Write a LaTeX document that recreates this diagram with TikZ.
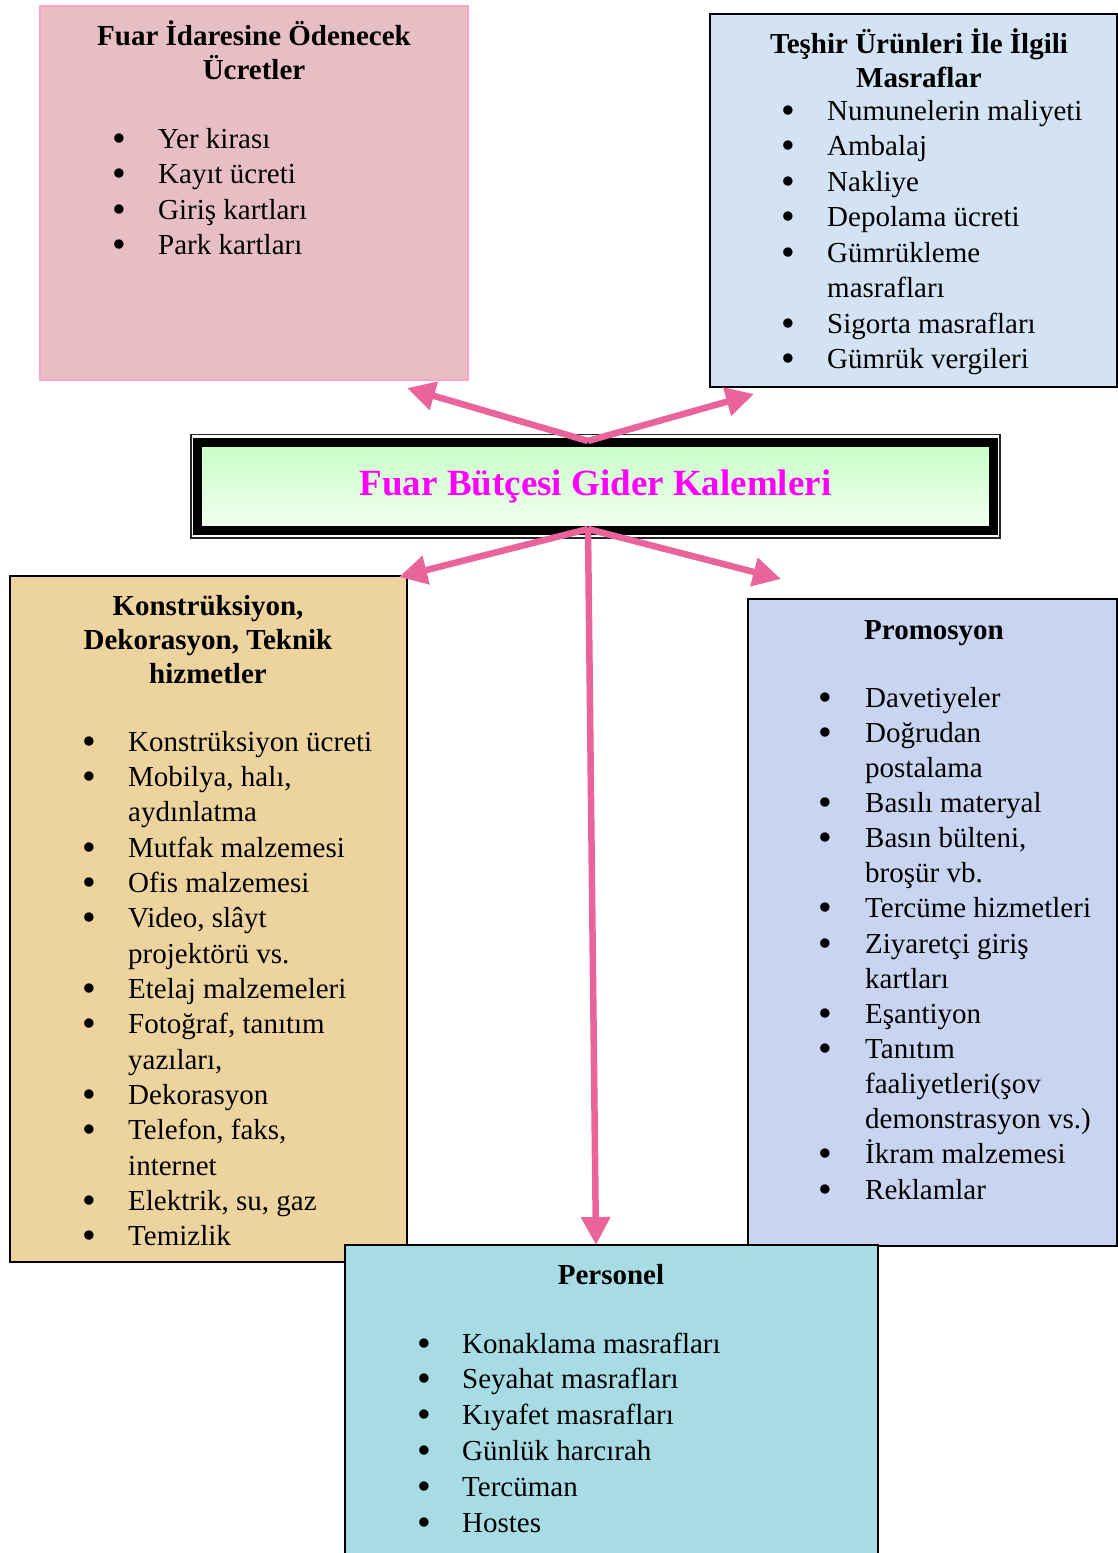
\documentclass[tikz,border=0pt]{standalone}
\usepackage{fontspec}
\setmainfont{Liberation Serif}
\usepackage{array}
\usetikzlibrary{arrows.meta,positioning,calc}

\definecolor{arrowpink}{HTML}{E8649A}
\definecolor{rosefill}{HTML}{E8BEC5}
\definecolor{roseline}{HTML}{F7A3CB}
\definecolor{skyfill}{HTML}{D4E3F4}
\definecolor{sandfill}{HTML}{EDD49E}
\definecolor{lilacfill}{HTML}{C9D4F1}
\definecolor{aquafill}{HTML}{A8DCE5}
\definecolor{mintfill}{HTML}{C6FFC6}
\definecolor{mintlow}{HTML}{F4FFF1}
\definecolor{titlemag}{HTML}{FF00FF}

% one bullet row, and a wrapped line of the same item
\newcommand{\bigdot}{\smash{\raisebox{-3pt}{\scalebox{1.35}{\textbullet}}}}
\newcommand{\bul}[1]{\bigdot & #1\\}
\newcommand{\cont}[1]{& #1\\}

\begin{document}
\begin{tikzpicture}[x=1pt, y=-1pt, >={Triangle[length=28pt,width=28pt]}]
		\tikzstyle{panel}=[draw=black, line width=2pt, outer sep=0pt, inner sep=0pt, anchor=north west]
		\tikzstyle{headtitle}=[align=center, anchor=base, inner sep=0pt, font=\bfseries\fontsize{29}{34}\selectfont]
		\tikzstyle{itemlist}=[anchor=base west, inner sep=0pt, font=\fontsize{29}{35.5}\selectfont]
		\tikzstyle{link}=[->, color=arrowpink, line width=6.5pt]
		\useasboundingbox (0,0) rectangle (1118,1553);

		% panels
		\node[panel, draw=roseline, fill=rosefill, minimum width=428pt, minimum height=374pt] (fees) at (40,6) {};
		\node[panel, fill=skyfill, minimum width=407pt, minimum height=373pt] (goods) at (710,14) {};
		\node[panel, fill=sandfill, minimum width=397pt, minimum height=686pt] (stand) at (10,576) {};
		\node[panel, fill=lilacfill, minimum width=369pt, minimum height=647pt] (promo) at (748,599) {};
		\node[panel, fill=aquafill, minimum width=533pt, minimum height=320pt] (staff) at (345,1245) {};

		% centre box
		\node[draw=black, line width=9pt, outer sep=0pt, top color=mintfill, bottom color=mintlow,
			minimum width=796pt, minimum height=88pt, text=titlemag,
			font=\bfseries\fontsize{37}{40}\selectfont] (hub) at (595.5,486.5) {Fuar Bütçesi Gider Kalemleri};
		\draw[line width=1.2pt, draw=black!85] ($(hub.north west)+(-6.5,-8)$) rectangle ($(hub.south east)+(6.5,7.5)$);

		% titles
		\node[headtitle] (t1) at (254,79) {Fuar İdaresine Ödenecek\\Ücretler};
		\node[headtitle] (t2) at (919,87) {Teşhir Ürünleri İle İlgili\\Masraflar};
		\node[headtitle] (t3) at (208,683) {Konstrüksiyon,\\Dekorasyon, Teknik\\hizmetler};
		\node[headtitle] (t4) at (934,639) {Promosyon};
		\node[headtitle] (t5) at (611,1284) {Personel};

		% lists
		\node[itemlist] (l1) at (112,148) {\begin{tabular}[t]{@{}p{46pt}@{}l@{}}
			\bul{Yer kirası}
			\bul{Kayıt ücreti}
			\bul{Giriş kartları}
			\bul{Park kartları}
		\end{tabular}};
		\node[itemlist] (l2) at (781,120) {\begin{tabular}[t]{@{}p{46pt}@{}l@{}}
			\bul{Numunelerin maliyeti}
			\bul{Ambalaj}
			\bul{Nakliye}
			\bul{Depolama ücreti}
			\bul{Gümrükleme}
			\cont{masrafları}
			\bul{Sigorta masrafları}
			\bul{Gümrük vergileri}
		\end{tabular}};
		\node[itemlist, font=\fontsize{29}{35.35}\selectfont] (l3) at (82,751) {\begin{tabular}[t]{@{}p{46pt}@{}l@{}}
			\bul{Konstrüksiyon ücreti}
			\bul{Mobilya, halı,}
			\cont{aydınlatma}
			\bul{Mutfak malzemesi}
			\bul{Ofis malzemesi}
			\bul{Video, slâyt}
			\cont{projektörü vs.}
			\bul{Etelaj malzemeleri}
			\bul{Fotoğraf, tanıtım}
			\cont{yazıları,}
			\bul{Dekorasyon}
			\bul{Telefon, faks,}
			\cont{internet}
			\bul{Elektrik, su, gaz}
			\bul{Temizlik}
		\end{tabular}};
		\node[itemlist, font=\fontsize{29}{35.15}\selectfont] (l4) at (818,707) {\begin{tabular}[t]{@{}p{47pt}@{}l@{}}
			\bul{Davetiyeler}
			\bul{Doğrudan}
			\cont{postalama}
			\bul{Basılı materyal}
			\bul{Basın bülteni,}
			\cont{broşür vb.}
			\bul{Tercüme hizmetleri}
			\bul{Ziyaretçi giriş}
			\cont{kartları}
			\bul{Eşantiyon}
			\bul{Tanıtım}
			\cont{faaliyetleri(şov}
			\cont{demonstrasyon vs.)}
			\bul{İkram malzemesi}
			\bul{Reklamlar}
		\end{tabular}};
		\node[itemlist, font=\fontsize{29}{35.8}\selectfont] (l5) at (417,1353) {\begin{tabular}[t]{@{}p{45pt}@{}l@{}}
			\bul{Konaklama masrafları}
			\bul{Seyahat masrafları}
			\bul{Kıyafet masrafları}
			\bul{Günlük harcırah}
			\bul{Tercüman}
			\bul{Hostes}
		\end{tabular}};

		% arrows
		\coordinate (hubtop) at (588,441);
		\coordinate (hubbot) at (588,529);
		\coordinate (toFees) at (407,388);
		\coordinate (toGoods) at (754,394);
		\coordinate (toStand) at (399,577);
		\coordinate (toPromo) at (781,579);
		\coordinate (toStaff) at (596,1245);
		\draw[link] (hubtop) -- (toFees);
		\draw[link] (hubtop) -- (toGoods);
		\draw[link] (hubbot) -- (toStand);
		\draw[link] (hubbot) -- (toPromo);
		\draw[link] (hubbot) -- (toStaff);
	\end{tikzpicture}
\end{document}
